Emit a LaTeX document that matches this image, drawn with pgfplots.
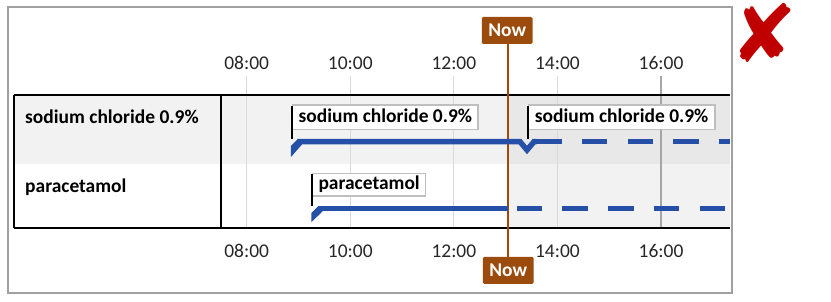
\documentclass[border=0pt]{standalone}
\usepackage{pgfplots}
\pgfplotsset{compat=1.18}
\usepackage{fontspec}
\setmainfont{Carlito}
\newfontfamily\symfont{DejaVu Sans}
\definecolor{barblue}{RGB}{38,79,168}
\definecolor{nowbrown}{RGB}{155,75,12}
\definecolor{crossred}{RGB}{192,0,0}
\definecolor{rowgray}{RGB}{242,242,242}
\definecolor{futgray}{RGB}{232,232,232}
\definecolor{gridlight}{RGB}{217,217,217}
\definecolor{griddark}{RGB}{166,166,166}
\definecolor{framegray}{RGB}{160,160,160}
\definecolor{boxgray}{RGB}{191,191,191}
\newcommand\cf{\fontsize{14.6}{17.5}\selectfont}
\begin{document}
\begin{tikzpicture}
\path[use as bounding box] (0,0) rectangle (623.25pt,226.5pt);
\begin{axis}[
  at={(6pt,6.75pt)}, anchor=south west,
  scale only axis, width=543pt, height=214.5pt,
  xmin=3.392, xmax=17.370, ymin=9, ymax=295,
  axis line style={draw=framegray, line width=1.4pt},
  ticks=none, clip=false,
]
% row backgrounds
\fill[rowgray] (axis cs:3.507,138) rectangle (axis cs:13.04,207);
\fill[futgray] (axis cs:13.04,138) rectangle (axis cs:17.332,207);
\fill[rowgray] (axis cs:13.04,74) rectangle (axis cs:17.332,138);
% grid lines
\foreach \h in {8,10,12,14} {
  \edef\tmp{\noexpand\draw[gridlight, line width=0.9pt] (axis cs:\h,74) -- (axis cs:\h,226);}
  \tmp
}
\draw[griddark, line width=0.9pt] (axis cs:16,74) -- (axis cs:16,226);
% time labels
\foreach \h/\t in {8/08:00,10/10:00,12/12:00,14/14:00,16/16:00} {
  \edef\tmp{\noexpand\node[anchor=base, font=\noexpand\cf, text=black!85] at (axis cs:\h,232) {\t};
  \noexpand\node[anchor=base, font=\noexpand\cf, text=black!85] at (axis cs:\h,44.7) {\t};}
  \tmp
}
% table lines
\draw[black, line width=1.5pt] (axis cs:3.507,207) -- (axis cs:17.332,207);
\draw[black, line width=1.5pt] (axis cs:3.507,74) -- (axis cs:17.332,74);
\draw[black, line width=1.5pt] (axis cs:3.507,74) -- (axis cs:3.507,207);
\draw[black, line width=1.5pt] (axis cs:7.504,74) -- (axis cs:7.504,207);
% row labels
\node[anchor=base west, font=\cf\bfseries, inner sep=0pt] at (axis cs:3.719,178) {sodium chloride 0.9\%};
\node[anchor=base west, font=\cf\bfseries, inner sep=0pt] at (axis cs:3.719,109.3) {paracetamol};
% now line
\draw[nowbrown, line width=1.5pt] (axis cs:13.04,45) -- (axis cs:13.04,258);
% sodium chloride bar
\addplot[fill=barblue, draw=none] coordinates {(8.855,156) (8.990,163.1) (9.068,157.5) (8.855,145)} -- cycle;
\addplot[barblue, line width=4.125pt, line join=miter] coordinates {(8.98,160.3) (13.277,160.3) (13.412,152) (13.547,160.3) (13.60,160.3)};
\addplot[barblue, line width=4.125pt, dash pattern=on 19.1pt off 15.2pt] coordinates {(13.59,160.3) (17.332,160.3)};
% paracetamol bar
\addplot[fill=barblue, draw=none] coordinates {(9.251,89) (9.386,96.1) (9.464,90.5) (9.251,80)} -- cycle;
\addplot[barblue, line width=4.125pt] coordinates {(9.376,93.25) (13.04,93.25)};
\addplot[barblue, line width=4.125pt, dash pattern=on 19.1pt off 15.2pt] coordinates {(13.213,93.25) (17.332,93.25)};
% label boxes
\node[anchor=south west, draw=boxgray, line width=1.1pt, fill=white, font=\cf\bfseries,
      text height=10.8pt, text depth=3.6pt, inner xsep=4.4pt, inner ysep=2pt] at (axis cs:8.875,171.5) {sodium chloride 0.9\%};
\draw[black, line width=1.5pt] (axis cs:8.875,195.8) -- (axis cs:8.875,163);
\node[anchor=south west, draw=boxgray, line width=1.1pt, fill=white, font=\cf\bfseries,
      text height=10.8pt, text depth=3.6pt, inner xsep=5pt, inner ysep=2pt] at (axis cs:13.422,171.5) {sodium chloride 0.9\%};
\draw[black, line width=1.5pt] (axis cs:13.422,195.8) -- (axis cs:13.422,163);
\node[anchor=south west, draw=boxgray, line width=1.1pt, fill=white, font=\cf\bfseries,
      text height=10.4pt, text depth=3.4pt, inner xsep=4.4pt, inner ysep=1.6pt] at (axis cs:9.26,105.3) {paracetamol};
\draw[black, line width=1.5pt] (axis cs:9.26,127.5) -- (axis cs:9.26,96);
% now boxes
\node[fill=nowbrown, text=white, font=\cf\bfseries, minimum width=38pt, minimum height=20.25pt,
      inner sep=0pt, rounded corners=1pt] at (axis cs:13.03,271.5) {Now};
\node[fill=nowbrown, text=white, font=\cf\bfseries, minimum width=38pt, minimum height=20.25pt,
      inner sep=0pt, rounded corners=1pt] at (axis cs:13.05,31.5) {Now};
\end{axis}
\node[text=crossred, font=\symfont\fontsize{60}{60}\selectfont, inner sep=0pt] at (573pt,202.1pt) {✘};
\end{tikzpicture}
\end{document}
